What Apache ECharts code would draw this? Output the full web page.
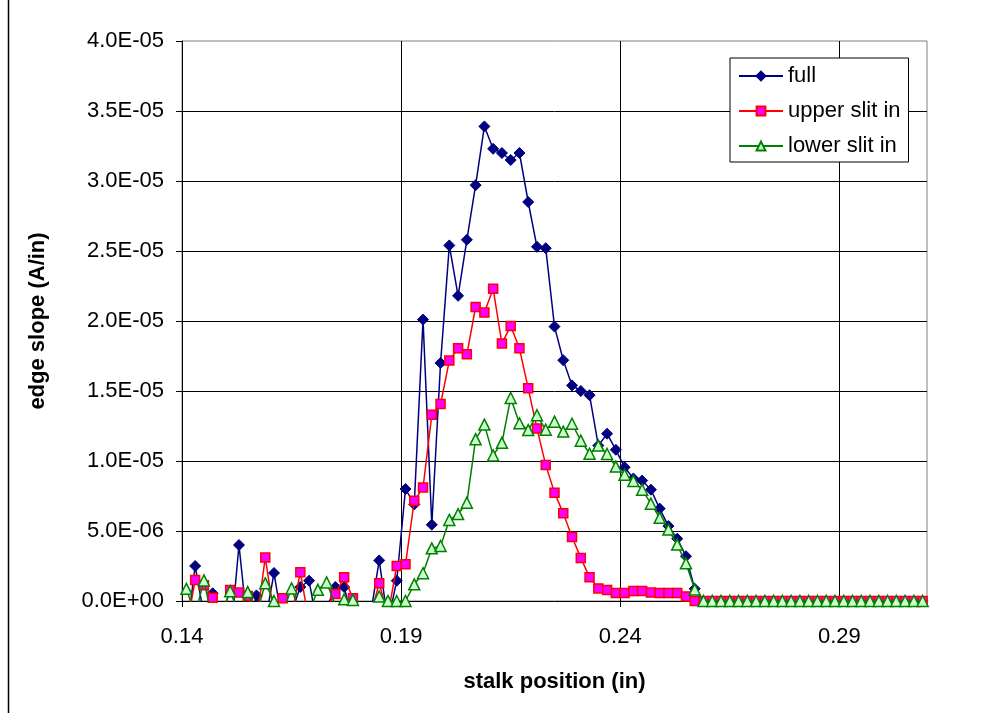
<!DOCTYPE html>
<html>
<head>
<meta charset="utf-8">
<script src="https://cdn.jsdelivr.net/npm/echarts@6/dist/echarts.min.js"></script>
<style>
  html, body { margin: 0; padding: 0; background: #fff; }
  #chart { width: 1000px; height: 713px; }
</style>
</head>
<body>
<div id="chart"></div>
<script>
// Stalk positions (in)
const positions = [
  0.141,0.143,0.145,0.147,0.149,0.151,0.153,0.155,0.157,0.159,
  0.161,0.163,0.165,0.167,0.169,0.171,0.173,0.175,0.177,0.179,
  0.181,0.183,0.185,0.187,0.189,0.191,0.193,0.195,0.197,0.199,
  0.201,0.203,0.205,0.207,0.209,0.211,0.213,0.215,0.217,0.219,
  0.221,0.223,0.225,0.227,0.229,0.231,0.233,0.235,0.237,0.239,
  0.241,0.243,0.245,0.247,0.249,0.251,0.253,0.255,0.257,0.259,
  0.261,0.263,0.265,0.267,0.269,0.271,0.273,0.275,0.277,0.279,
  0.281,0.283,0.285,0.287,0.289,0.291,0.293,0.295,0.297,0.299,
  0.301,0.303,0.305,0.307,0.309
];

// Edge slope values, in units of 1E-06 A/in
const fullSlope = [
  -2.5, 2.5, -1.0, 0.55, -1.5, -3.0, 4.0, -2.0, 0.4, -1.5,
  2.0, -1.8, -0.8, 1.0, 1.45, -2.0, -0.5, 1.0, 1.0, -1.5,
  -2.0, -1.0, 2.9, -1.5, 1.45, 8.0, 6.9, 20.1, 5.45, 17.0,
  25.4, 21.8, 25.8, 29.7, 33.9, 32.3, 32.0, 31.5, 32.0, 28.5,
  25.3, 25.2, 19.6, 17.2, 15.4, 15.0, 14.7, 11.1, 11.95, 10.8,
  9.55, 8.75, 8.6, 7.95, 6.6, 5.35, 4.45, 3.2, 0.87, 0,
  0, 0, 0, 0, 0, 0, 0, 0, 0, 0,
  0, 0, 0, 0, 0, 0, 0, 0, 0, 0,
  0, 0, 0, 0, 0
];

const upperSlitSlope = [
  -2.0, 1.5, 1.12, 0.24, -1.0, 0.79, 0.6, 0.36, -1.5, 3.1,
  -1.0, 0.19, -1.0, 2.05, -1.5, -1.0, -0.5, 0.5, 1.7, 0.19,
  -1.5, -1.0, 1.26, -1.0, 2.5, 2.62, 7.16, 8.1, 13.3, 14.07,
  17.17, 18.05, 17.62, 21.0, 20.6, 22.3, 18.4, 19.64, 18.05, 15.19,
  12.33, 9.71, 7.74, 6.26, 4.57, 3.08, 1.69, 0.9, 0.79, 0.57,
  0.57, 0.72, 0.72, 0.6, 0.57, 0.57, 0.57, 0.33, 0, 0,
  0, 0, 0, 0, 0, 0, 0, 0, 0, 0,
  0, 0, 0, 0, 0, 0, 0, 0, 0, 0,
  0, 0, 0, 0, 0
];

const lowerSlitSlope = [
  0.87, -1.0, 1.47, -1.5, -1.0, 0.7, -1.0, 0.64, -1.0, 1.26,
  0.0, -0.8, 0.9, -1.0, -0.8, 0.8, 1.33, -0.3, 0.12, 0.08,
  -1.0, -0.5, 0.33, 0.0, 0.0, 0.0, 1.19, 1.98, 3.76, 3.93,
  5.79, 6.21, 7.02, 11.55, 12.6, 10.4, 11.3, 14.5, 12.69, 12.21,
  13.27, 12.23, 12.81, 12.1, 12.66, 11.45, 10.52, 11.1, 10.5, 9.6,
  9.02, 8.58, 7.95, 6.95, 5.94, 5.1, 4.03, 2.69, 0.82, 0,
  0, 0, 0, 0, 0, 0, 0, 0, 0, 0,
  0, 0, 0, 0, 0, 0, 0, 0, 0, 0,
  0, 0, 0, 0, 0
];

const seriesNames = ['full', 'upper slit in', 'lower slit in'];
const xAxisTitle = 'stalk position (in)';
const yAxisTitle = 'edge slope (A/in)';

const FONT = "'Liberation Sans', Arial, sans-serif";

function pairs(ys) {
  return positions.map((x, i) => [x, ys[i]]);
}

// 4.0E-05 style labels
function sciLabel(v) {
  const s = (v * 1e-6).toExponential(1);
  const m = s.match(/^(-?[\d.]+)e([+-])(\d+)$/);
  const exp = m[3].length < 2 ? '0' + m[3] : m[3];
  return m[1] + 'E' + m[2] + exp;
}

const chart = echarts.init(document.getElementById('chart'), null, { renderer: 'canvas' });

chart.setOption({
  animation: false,
  backgroundColor: '#ffffff',
  grid: {
    left: 182, top: 41, width: 745, height: 560,
    show: true, borderColor: '#808080', borderWidth: 1, backgroundColor: 'transparent'
  },
  legend: {
    data: seriesNames,
    orient: 'vertical',
    left: 730, top: 58,
    padding: [7, 8, 5, 8],
    itemGap: 13,
    itemWidth: 44,
    itemHeight: 11,
    backgroundColor: '#ffffff',
    borderColor: '#000000',
    borderWidth: 1,
    textStyle: { fontFamily: FONT, fontSize: 22, color: '#000' }
  },
  xAxis: {
    type: 'value',
    min: 0.14, max: 0.31, interval: 0.05,
    name: xAxisTitle,
    nameLocation: 'middle',
    nameGap: 70,
    nameTextStyle: { fontFamily: FONT, fontSize: 22, fontWeight: 'bold', color: '#000' },
    axisLine: { show: true, onZero: false, lineStyle: { color: '#000', width: 1 } },
    axisTick: { show: true, inside: false, length: 6, lineStyle: { color: '#000' } },
    axisLabel: {
      fontFamily: FONT, fontSize: 22, color: '#000', margin: 25,
      showMaxLabel: false,
      formatter: v => v.toFixed(2)
    },
    splitLine: { show: true, showMinLine: false, showMaxLine: false, lineStyle: { color: '#000', width: 1 } }
  },
  yAxis: {
    type: 'value',
    min: 0, max: 40, interval: 5,
    name: yAxisTitle,
    nameLocation: 'middle',
    nameGap: 133,
    nameTextStyle: { fontFamily: FONT, fontSize: 22, fontWeight: 'bold', color: '#000' },
    axisLine: { show: true, onZero: false, lineStyle: { color: '#000', width: 1 } },
    axisTick: { show: true, inside: false, length: 6, lineStyle: { color: '#000' } },
    axisLabel: {
      fontFamily: FONT, fontSize: 22, color: '#000', margin: 18,
      formatter: sciLabel
    },
    splitLine: { show: true, showMinLine: false, showMaxLine: false, lineStyle: { color: '#000', width: 1 } }
  },
  graphic: [
    {
      type: 'line',
      shape: { x1: 8.5, y1: 0, x2: 8.5, y2: 713 },
      style: { stroke: '#000', lineWidth: 1.5 }
    }
  ],
  series: [
    {
      name: seriesNames[0],
      type: 'line',
      data: pairs(fullSlope),
      clip: true,
      symbol: 'diamond',
      symbolSize: 11,
      showAllSymbol: true,
      lineStyle: { color: '#000080', width: 1.5 },
      itemStyle: { color: '#000080', borderColor: '#000080', borderWidth: 1 },
      z: 2
    },
    {
      name: seriesNames[1],
      type: 'line',
      data: pairs(upperSlitSlope),
      clip: true,
      symbol: 'rect',
      symbolSize: 9,
      showAllSymbol: true,
      lineStyle: { color: '#ff0000', width: 1.5 },
      itemStyle: { color: '#ff00ff', borderColor: '#ff0000', borderWidth: 1.5 },
      z: 3
    },
    {
      name: seriesNames[2],
      type: 'line',
      data: pairs(lowerSlitSlope),
      clip: true,
      symbol: 'triangle',
      symbolSize: 11,
      showAllSymbol: true,
      lineStyle: { color: '#008000', width: 1.5 },
      itemStyle: { color: '#ccffcc', borderColor: '#008000', borderWidth: 1.5 },
      z: 4
    }
  ]
});
</script>
</body>
</html>
